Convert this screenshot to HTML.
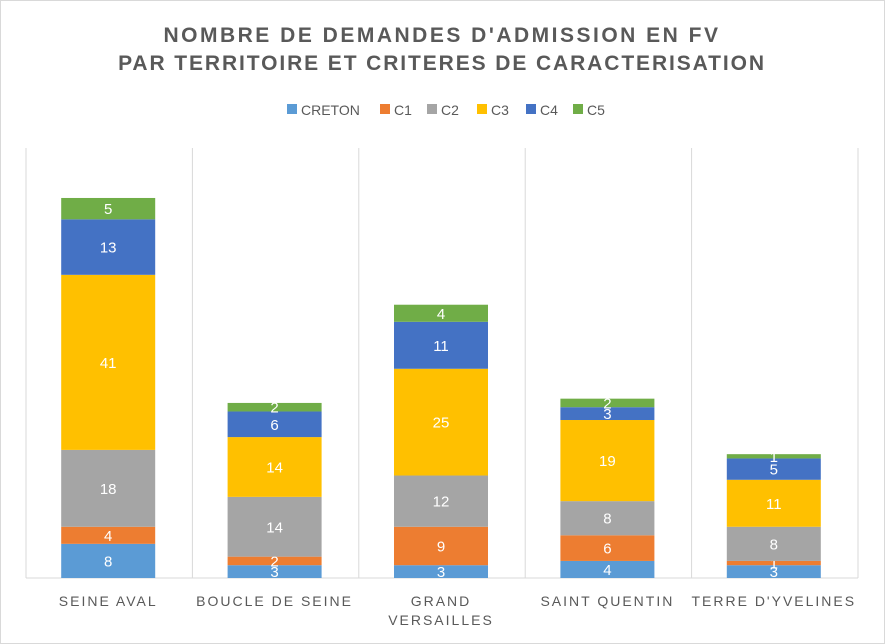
<!DOCTYPE html>
<html><head><meta charset="utf-8"><style>
body{margin:0;background:#fff;}
svg{display:block;font-family:"Liberation Sans",sans-serif;}
</style></head><body>
<svg id="chart" width="885" height="644">
<rect x="0.5" y="0.5" width="884" height="643" fill="#fff" stroke="#d9d9d9"/>
<text x="442" y="42" text-anchor="middle" font-size="21" font-weight="bold" fill="#595959" letter-spacing="2.5">NOMBRE DE DEMANDES D'ADMISSION EN FV</text>
<text x="442" y="70" text-anchor="middle" font-size="21" font-weight="bold" fill="#595959" letter-spacing="1.9">PAR TERRITOIRE ET CRITERES DE CARACTERISATION</text>
<g id="legend"></g>
<g id="grid"></g>
<g id="bars"></g>
<g id="xlabels"></g>
</svg>
<script>
const categories = [["SEINE AVAL"],["BOUCLE DE SEINE"],["GRAND","VERSAILLES"],["SAINT QUENTIN"],["TERRE D'YVELINES"]];
const seriesNames = ["CRETON","C1","C2","C3","C4","C5"];
const CRETON = [8,3,3,4,3];
const C1 = [4,2,9,6,1];
const C2 = [18,14,12,8,8];
const C3 = [41,14,25,19,11];
const C4 = [13,6,11,3,5];
const C5 = [5,2,4,2,1];
const series = [CRETON,C1,C2,C3,C4,C5];
const colors = ["#5B9BD5","#ED7D31","#A5A5A5","#FFC000","#4472C4","#70AD47"];

const NS="http://www.w3.org/2000/svg";
const plotLeft=26, plotRight=858, plotBase=578, plotTop=148, unit=4.27;
const bw=(plotRight-plotLeft)/categories.length, barW=94;
const yScale=v=>plotBase-v*unit;
const xScale=i=>plotLeft+bw*i+bw/2-1;
function mk(tag,attrs,parent){const e=document.createElementNS(NS,tag);for(const k in attrs)e.setAttribute(k,attrs[k]);parent.appendChild(e);return e;}

const grid=document.getElementById('grid');
for(let i=0;i<=categories.length;i++){
  const l=mk('line',{x1:plotLeft+bw*i,x2:plotLeft+bw*i,y1:plotTop,y2:plotBase,stroke:'#d9d9d9'},grid);
  
  
}
const ax=mk('line',{x1:plotLeft,x2:plotRight,y1:plotBase,y2:plotBase,stroke:'#d9d9d9'},grid);



const bars=document.getElementById('bars');
categories.forEach((c,i)=>{
  let cum=0;
  series.forEach((s,k)=>{
    const v=s[i];
    const r=mk('rect',{x:xScale(i)-barW/2,y:yScale(cum+v),width:barW,height:v*unit,fill:colors[k]},bars);
    
    
    const t=mk('text',{x:xScale(i),y:yScale(cum+v/2)+5.5,'text-anchor':'middle','font-size':15,fill:'#fff'},bars);
    t.textContent=v;
    
    
    cum+=v;
  });
});

const xl=document.getElementById('xlabels');
categories.forEach((c,i)=>{
  c.forEach((line,j)=>{
    const t=mk('text',{x:xScale(i),y:606+j*19,'text-anchor':'middle','font-size':14,fill:'#595959','letter-spacing':'2'},xl);
    t.textContent=line;
    
    
  });
});

const lg=document.getElementById('legend');
const lx=[287,380,427,477,526,573];
seriesNames.forEach((n,k)=>{
  const r=mk('rect',{x:lx[k],y:104,width:10,height:10,fill:colors[k]},lg);
  
  
  const t=mk('text',{x:lx[k]+14,y:115,'font-size':14,fill:'#595959'},lg);
  t.textContent=n;
  
  
});
</script>
</body></html>
